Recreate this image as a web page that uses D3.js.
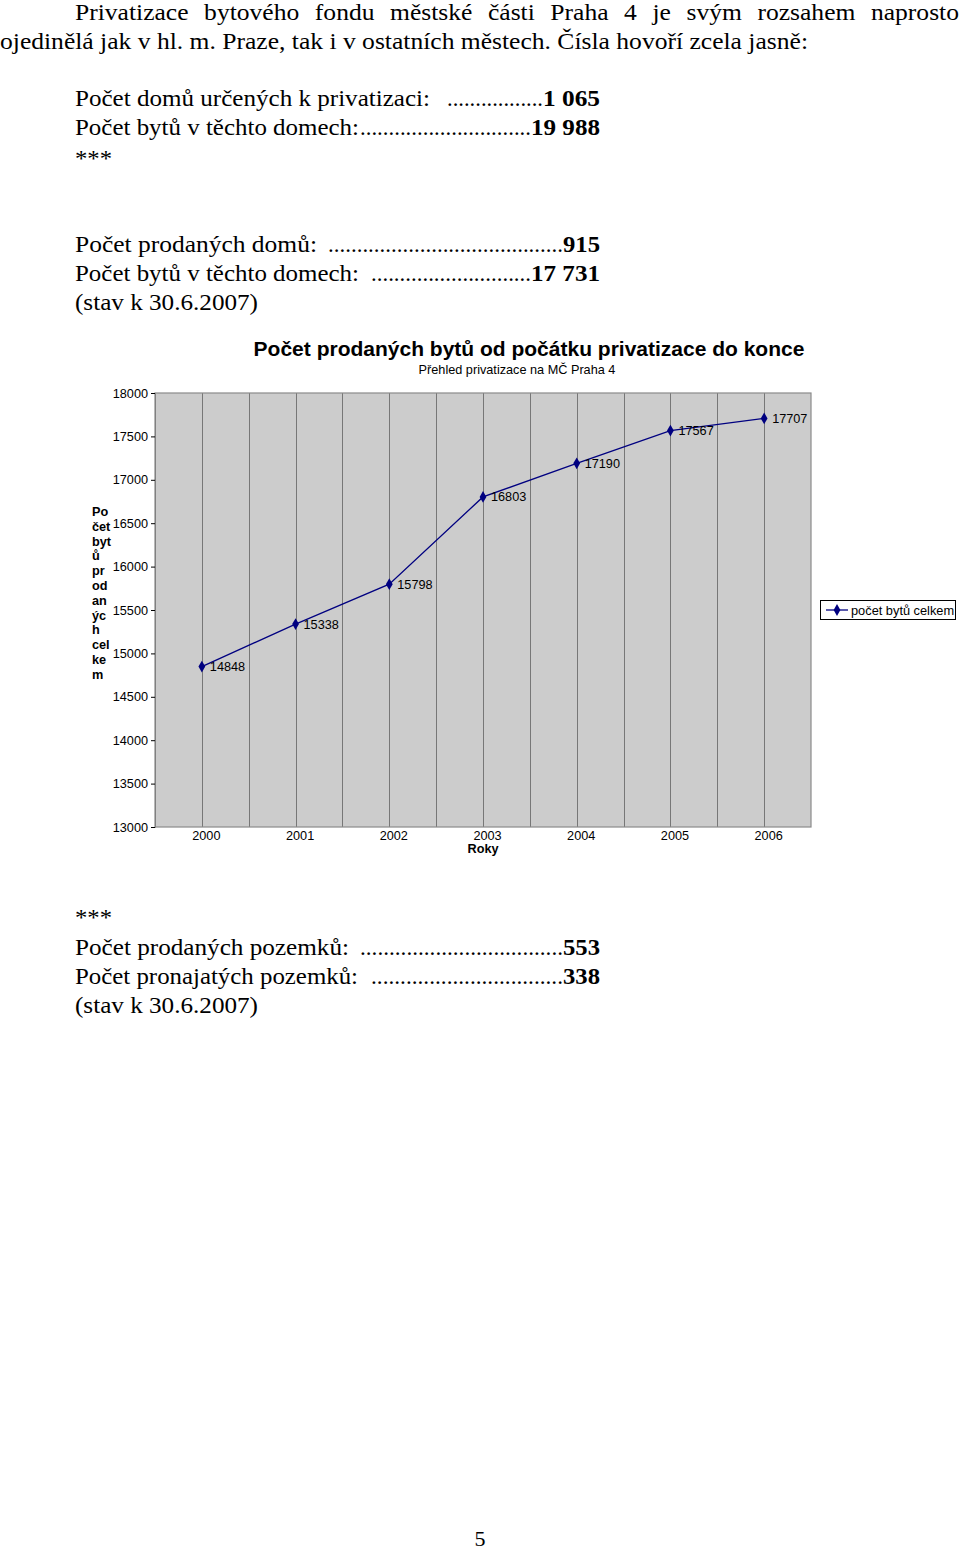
<!DOCTYPE html>
<html><head><meta charset="utf-8">
<script src="https://cdn.jsdelivr.net/npm/d3@7"></script>
<style>body{margin:0;background:#fff}svg{display:block}</style>
</head><body>
<script>
// ---- data ----
const years = ["2000","2001","2002","2003","2004","2005","2006"];
const soldFlats = [14848, 15338, 15798, 16803, 17190, 17567, 17707];
const yTicks = [13000,13500,14000,14500,15000,15500,16000,16500,17000,17500,18000];
const seriesName = "počet bytů celkem";
const chartTitle = "Počet prodaných bytů od počátku privatizace do konce";
const chartSubtitle = "Přehled privatizace na MČ Praha 4";
const xTitle = "Roky";
const yTitleLines = ["Po","čet","byt","ů","pr","od","an","ýc","h","cel","ke","m"];
const introLine1 = "Privatizace bytového fondu městské části Praha 4 je svým rozsahem naprosto";
const introLine2 = "ojedinělá  jak v hl. m. Praze, tak i v ostatních městech. Čísla hovoří zcela jasně:";
const statsTop = [
  {label:"Počet domů určených k privatizaci:", value:"1 065"},
  {label:"Počet bytů v těchto domech:", value:"19 988"}
];
const statsMid = [
  {label:"Počet prodaných domů:", value:"915"},
  {label:"Počet bytů v těchto domech:", value:"17 731"}
];
const statsBottom = [
  {label:"Počet prodaných pozemků:", value:"553"},
  {label:"Počet pronajatých pozemků:", value:"338"}
];
const dateNote = "(stav k 30.6.2007)";

// ---- page ----
const W = 960, H = 1550;
const svg = d3.select("body").append("svg").attr("width", W).attr("height", H);
const serif = "'Liberation Serif','Times New Roman',Times,serif";
const sans = "'Liberation Sans',Arial,sans-serif";
const FS = 23;

function ptext(x, y, s, opts={}) {
  const t = svg.append("text").attr("x", x).attr("y", y).text(s)
    .attr("font-family", serif).attr("font-size", opts.size || FS).attr("fill", "#000");
  if (opts.bold) t.attr("font-weight", "bold");
  if (opts.anchor) t.attr("text-anchor", opts.anchor);
  if (opts.len) t.attr("textLength", opts.len).attr("lengthAdjust", "spacingAndGlyphs");
  return t;
}

// intro paragraph: line 2 sets the glyph compression, line 1 is justified by word gaps
const l2 = ptext(0, 49, introLine2);
const k = 808 / l2.node().getComputedTextLength();
l2.attr("textLength", 808).attr("lengthAdjust", "spacingAndGlyphs");
(function justify(words, x0, x1, yy) {
  const nodes = words.map(w => ptext(0, yy, w));
  const widths = nodes.map(n => n.node().getComputedTextLength() * k);
  const gap = (x1 - x0 - d3.sum(widths)) / (words.length - 1);
  let cx = x0;
  nodes.forEach((n, i) => {
    n.attr("x", cx).attr("textLength", widths[i]).attr("lengthAdjust", "spacingAndGlyphs");
    cx += widths[i] + gap;
  });
})(introLine1.split(" "), 75, 959, 20);

// stat rows: label, leader dots, bold number
function statRow(r, y, labelEnd, dotStart, numStart) {
  ptext(75, y, r.label, {len: labelEnd - 75});
  const dotsLen = numStart - dotStart;
  ptext(dotStart, y, ".".repeat(Math.max(1, Math.round(dotsLen / 5.75))), {len: dotsLen});
  ptext(numStart, y, r.value, {bold: true, len: 600 - numStart});
}
statRow(statsTop[0], 106, 430, 447, 543);
statRow(statsTop[1], 135, 359, 360, 531);
ptext(75, 166, "***", {len: 37});
statRow(statsMid[0], 252, 317, 328, 563);
statRow(statsMid[1], 281, 359, 371, 531);
ptext(75, 310, dateNote, {len: 183});
ptext(75, 925, "***", {len: 37});
statRow(statsBottom[0], 955, 349, 360, 563);
statRow(statsBottom[1], 984, 358, 371, 563);
ptext(75, 1013, dateNote, {len: 183});
ptext(480, 1546, "5", {anchor: "middle", size: 22});

// ---- chart ----
const L = 155, R = 811, T = 393, B = 827;
const x = d3.scalePoint().domain(years).range([L, R]).padding(0.5);
const band = d3.scaleBand().domain(years).range([L, R]);
const y = d3.scaleLinear().domain([13000, 18000]).range([B, T]);
const g = svg.append("g");
const SF = 12.7;

g.append("rect").attr("x", L).attr("y", T).attr("width", R - L).attr("height", B - T)
  .attr("fill", "#cccccc");

// vertical gridlines at band edges and centres
const gridX = [];
years.forEach(d => { if (band(d) > L) gridX.push(band(d)); gridX.push(x(d)); });
g.selectAll("line.grid").data(gridX).join("line").attr("class", "grid")
  .attr("x1", d => Math.round(d) + 0.5).attr("x2", d => Math.round(d) + 0.5).attr("y1", T).attr("y2", B)
  .attr("stroke", "#777").attr("stroke-width", 1);

g.append("rect").attr("x", L).attr("y", T).attr("width", R - L).attr("height", B - T)
  .attr("fill", "none").attr("stroke", "#8a8a8a").attr("stroke-width", 1.2);

// y axis
const yAxis = d3.axisLeft(y).tickValues(yTicks).tickSize(4).tickPadding(3).tickFormat(d3.format("d"));
const ya = g.append("g").attr("transform", `translate(${L},0)`).call(yAxis);
ya.select(".domain").attr("stroke", "#808080");
ya.selectAll(".tick line").attr("stroke", "#000");
ya.selectAll("text").attr("font-family", sans).attr("font-size", SF).attr("fill", "#000");

// x axis labels
const xAxis = d3.axisBottom(x).tickSize(0);
const xa = g.append("g").attr("transform", `translate(4,${B})`).call(xAxis);
xa.select(".domain").remove();
xa.selectAll("text").attr("y", 0).attr("dy", 13)
  .attr("font-family", sans).attr("font-size", SF).attr("fill", "#000");

g.append("text").attr("x", 483).attr("y", 853).attr("text-anchor", "middle")
  .attr("font-family", sans).attr("font-size", SF).attr("font-weight", "bold").text(xTitle);

// titles
g.append("text").attr("x", 529).attr("y", 356).attr("text-anchor", "middle")
  .attr("font-family", sans).attr("font-size", 21).attr("font-weight", "bold").text(chartTitle);
g.append("text").attr("x", 517).attr("y", 374).attr("text-anchor", "middle")
  .attr("font-family", sans).attr("font-size", SF).text(chartSubtitle);

// y title (wrapped)
g.append("text").attr("font-family", sans).attr("font-size", SF).attr("font-weight", "bold")
  .selectAll("tspan").data(yTitleLines).join("tspan")
  .attr("x", 92).attr("y", (d, i) => 516 + i * 14.8).text(d => d);

// line + markers
const data = years.map((d, i) => ({year: d, v: soldFlats[i]}));
g.append("path").datum(data)
  .attr("d", d3.line().x(d => x(d.year)).y(d => y(d.v)))
  .attr("fill", "none").attr("stroke", "#000080").attr("stroke-width", 1.3);
const diamond = d3.symbol().type(d3.symbolDiamond).size(40);
g.selectAll("path.pt").data(data).join("path").attr("class", "pt")
  .attr("d", diamond).attr("transform", d => `translate(${x(d.year)},${y(d.v)})`)
  .attr("fill", "#000080");
g.selectAll("text.lbl").data(data).join("text").attr("class", "lbl")
  .attr("x", d => x(d.year) + 8).attr("y", d => y(d.v) + 4.5)
  .attr("font-family", sans).attr("font-size", SF).text(d => d.v);

// legend
const lg = g.append("g");
lg.append("rect").attr("x", 820.5).attr("y", 600.5).attr("width", 135).attr("height", 19)
  .attr("fill", "#fff").attr("stroke", "#000").attr("stroke-width", 1);
lg.append("line").attr("x1", 826).attr("x2", 848).attr("y1", 610).attr("y2", 610)
  .attr("stroke", "#000080").attr("stroke-width", 1.3);
lg.append("path").attr("d", diamond).attr("transform", "translate(837,610)").attr("fill", "#000080");
lg.append("text").attr("x", 851).attr("y", 614.5).attr("font-family", sans).attr("font-size", 12.8).text(seriesName);
</script>
</body></html>
